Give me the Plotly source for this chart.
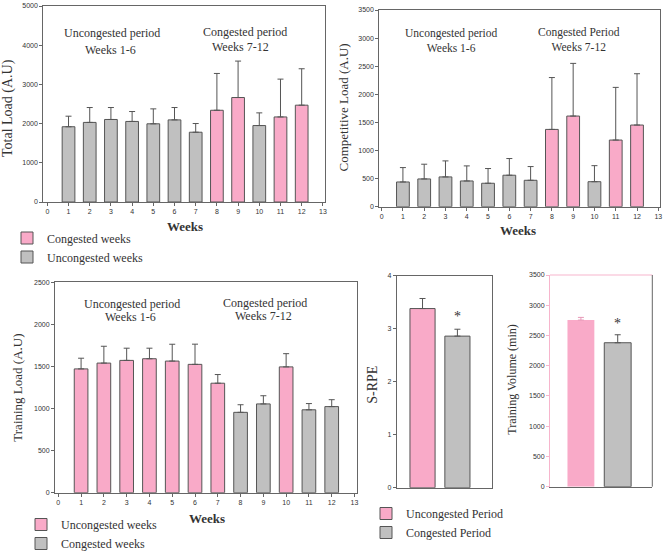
import plotly.graph_objects as go

W, H = 669, 560

# ---------------- data ----------------
weeks = list(range(1, 13))
week_ticks = list(range(0, 14))
# "C" = congested week (pink in the top panels), "U" = uncongested week
week_group = ["U", "U", "U", "U", "U", "U", "U", "C", "C", "U", "C", "C"]

total_load = [1920, 2030, 2105, 2055, 1995, 2095, 1780, 2340, 2665, 1950, 2170, 2470]
total_load_sd = [269, 380, 305, 253, 381, 315, 222, 939, 930, 324, 965, 929]

competitive_load = [440, 494, 530, 458, 417, 560, 470, 1375, 1613, 445, 1186, 1453]
competitive_load_sd = [256, 262, 285, 268, 262, 297, 244, 923, 937, 285, 937, 913]

training_load = [1471, 1540, 1572, 1592, 1564, 1525, 1301, 955, 1055, 1495, 985, 1023]
training_load_sd = [127, 200, 145, 125, 200, 240, 103, 90, 97, 157, 74, 82]

periods = ["Uncongested Period", "Congested Period"]
srpe = [3.38, 2.86]
srpe_sd = [0.19, 0.13]
training_volume = [2755, 2380]
training_volume_sd = [44, 132]

PINK = "#F9AAC8"
GRAY = "#C0C0C0"
EDGE = "#555555"
AXC = "#666666"
SERIF = "Liberation Serif, Times New Roman, serif"
SANS = "Liberation Sans, Arial, sans-serif"


def px(x):
    return x / W


def py(y):
    return 1 - y / H


fig = go.Figure()


def week_bars(values, sd, group, color, name, xa, ya, legend, showlegend, edge=True):
    xs = [w for w, g in zip(weeks, week_group) if g == group]
    ys = [v for v, g in zip(values, week_group) if g == group]
    es = [e for e, g in zip(sd, week_group) if g == group]
    fig.add_trace(go.Bar(
        x=xs, y=ys, width=0.6, name=name, xaxis=xa, yaxis=ya,
        legend=legend, showlegend=showlegend,
        marker=dict(color=color, line=dict(color=EDGE, width=1 if edge else 0)),
        error_y=dict(type="data", array=es, arrayminus=[0] * len(es), symmetric=False,
                     color=EDGE, thickness=1, width=3),
    ))


# Panel 1 : Total load
week_bars(total_load, total_load_sd, "C", PINK, "Congested weeks", "x", "y", "legend", True)
week_bars(total_load, total_load_sd, "U", GRAY, "Uncongested weeks", "x", "y", "legend", True)
# Panel 2 : Competitive load
week_bars(competitive_load, competitive_load_sd, "C", PINK, "Congested weeks", "x2", "y2", "legend", False)
week_bars(competitive_load, competitive_load_sd, "U", GRAY, "Uncongested weeks", "x2", "y2", "legend", False)
# Panel 3 : Training load
week_bars(training_load, training_load_sd, "U", PINK, "Uncongested weeks", "x3", "y3", "legend2", True)
week_bars(training_load, training_load_sd, "C", GRAY, "Congested weeks", "x3", "y3", "legend2", True)

# Panel 4 : S-RPE
for i, col in enumerate([PINK, GRAY]):
    fig.add_trace(go.Bar(
        x=[periods[i]], y=[srpe[i]], width=0.72, name=periods[i], xaxis="x4", yaxis="y4",
        legend="legend3", showlegend=True,
        marker=dict(color=col, line=dict(color=EDGE, width=1)),
        error_y=dict(type="data", array=[srpe_sd[i]], arrayminus=[0], symmetric=False,
                     color=EDGE, thickness=1, width=3),
    ))
# Panel 5 : Training volume
for i, (col, lw) in enumerate([(PINK, 0), (GRAY, 1)]):
    fig.add_trace(go.Bar(
        x=[periods[i]], y=[training_volume[i]], width=0.73, name=periods[i], xaxis="x5", yaxis="y5",
        showlegend=False,
        marker=dict(color=col, line=dict(color=EDGE, width=lw)),
        error_y=dict(type="data", array=[training_volume_sd[i]], arrayminus=[0], symmetric=False,
                     color=("#E79AB8" if i == 0 else EDGE), thickness=1, width=3),
    ))

tickfont = dict(family=SANS, size=7, color="#333333")


def week_x(domain, anchor, rng):
    return dict(domain=domain, anchor=anchor, range=rng, tickvals=week_ticks, ticks="outside",
                ticklen=3, tickcolor=AXC, showline=True, linecolor=AXC, linewidth=1, mirror=True,
                showgrid=False, zeroline=False, tickfont=tickfont, automargin=False)


def val_y(domain, anchor, rng, dtick, linecolor=AXC, mirror=True):
    return dict(domain=domain, anchor=anchor, range=rng, dtick=dtick, tick0=0, ticks="outside",
                ticklen=3, tickcolor=linecolor, showline=True, linecolor=linecolor, linewidth=1,
                mirror=mirror, showgrid=False, zeroline=False, tickfont=tickfont, automargin=False)


legend_font = dict(family=SERIF, size=12, color="#333333")

fig.update_layout(
    width=W, height=H, margin=dict(l=0, r=0, t=0, b=0, pad=0, autoexpand=False),
    paper_bgcolor="white", plot_bgcolor="white", barmode="overlay",
    font=dict(family=SERIF, color="#333333"),
    xaxis=week_x([px(43.3), px(325)], "y", [-0.19, 13.1]),
    yaxis=val_y([py(202), py(6)], "x", [0, 5000], 1000),
    xaxis2=week_x([px(379.3), px(660)], "y2", [-0.11, 13.08]),
    yaxis2=val_y([py(206.7), py(10)], "x2", [0, 3500], 500),
    xaxis3=week_x([px(55), px(357)], "y3", [-0.145, 13.11]),
    yaxis3=val_y([py(492.7), py(282.3)], "x3", [0, 2500], 500),
    xaxis4=dict(domain=[px(396.7), px(492.3)], anchor="y4", range=[-0.74, 2.0], showticklabels=False,
                ticks="", showline=True, linecolor=AXC, mirror=True, showgrid=False, zeroline=False,
                automargin=False),
    yaxis4=val_y([py(487.7), py(275.7)], "x4", [0, 4], 1),
    xaxis5=dict(domain=[px(550), px(652.3)], anchor="y5", range=[-0.84, 1.94], showticklabels=False,
                ticks="", showline=True, linecolor=AXC, showgrid=False, zeroline=False,
                automargin=False),
    yaxis5=val_y([py(486.7), py(275)], "x5", [0, 3500], 500, linecolor="#F7B5CD", mirror=False),
    legend=dict(x=px(7), y=py(223.5), xanchor="left", yanchor="top", bgcolor="rgba(0,0,0,0)",
                font=legend_font, tracegroupgap=0, itemwidth=30),
    legend2=dict(x=px(21), y=py(510), xanchor="left", yanchor="top", bgcolor="rgba(0,0,0,0)",
                 font=legend_font, tracegroupgap=0, itemwidth=30),
    legend3=dict(x=px(366), y=py(499), xanchor="left", yanchor="top", bgcolor="rgba(0,0,0,0)",
                 font=legend_font, tracegroupgap=0, itemwidth=30),
)

# frame pieces of the training-volume panel
fig.add_shape(type="line", xref="x5 domain", yref="y5 domain", x0=0, x1=1, y0=1, y1=1,
              line=dict(color="#F7B5CD", width=1))
fig.add_shape(type="line", xref="x5 domain", yref="y5 domain", x0=1, x1=1, y0=0, y1=1,
              line=dict(color=AXC, width=1))


def label(x, y, text, size=12, angle=0, bold=False):
    fig.add_annotation(x=px(x), y=py(y), xref="paper", yref="paper", text=(f"<b>{text}</b>" if bold else text),
                       showarrow=False, textangle=angle, xanchor="center", yanchor="middle",
                       font=dict(family=SERIF, size=size, color="#333333"))


# period annotations
label(112, 33, "Uncongested period")
label(110, 50, "Weeks 1-6")
label(245, 32, "Congested period")
label(240, 47, "Weeks 7-12")
label(451, 40.5, "Uncongested period<br>Weeks 1-6", size=11.5)
label(578.5, 39.5, "Congested Period<br>Weeks 7-12", size=11.5)
label(131.7, 304, "Uncongested period")
label(130.7, 317, "Weeks 1-6")
label(265, 302.7, "Congested period")
label(263.3, 316, "Weeks 7-12")

# axis titles
label(8, 108, "Total Load (A.U)", size=14, angle=-90)
label(343.5, 108, "Competitive Load (A.U)", size=13, angle=-90)
label(16.7, 388, "Training Load (A.U)", size=13, angle=-90)
label(371.7, 385, "S-RPE", size=14, angle=-90)
label(511.7, 380, "Training Volume (min)", size=12, angle=-90)
label(185, 226, "Weeks", size=13, bold=True)
label(518.3, 230, "Weeks", size=13, bold=True)
label(206.7, 518.3, "Weeks", size=13, bold=True)

# significance markers
fig.add_annotation(x=periods[1], y=3.23, xref="x4", yref="y4", text="*", showarrow=False,
                   font=dict(family=SERIF, size=14, color="#333333"), yanchor="middle")
fig.add_annotation(x=periods[1], y=2690, xref="x5", yref="y5", text="*", showarrow=False,
                   font=dict(family=SERIF, size=14, color="#333333"), yanchor="middle")

fig.write_html("out.html", config={"displayModeBar": False},
               post_script="document.body.style.margin='0px';")
